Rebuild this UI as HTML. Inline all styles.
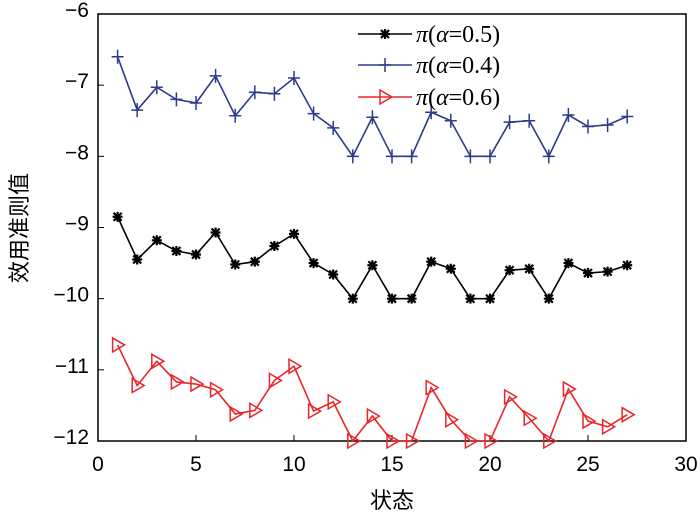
<!DOCTYPE html>
<html><head><meta charset="utf-8"><style>
body{margin:0;background:#fff}
svg{display:block;font-family:"Liberation Sans","Noto Sans CJK SC",sans-serif}
</style></head><body>
<svg id="chart" width="700" height="513"></svg>
<script>
const xTicks=[0,5,10,15,20,25,30];
const yTicks=[-6,-7,-8,-9,-10,-11,-12];
const states=[1,2,3,4,5,6,7,8,9,10,11,12,13,14,15,16,17,18,19,20,21,22,23,24,25,26,27];
const seriesA05=[-8.85,-9.45,-9.18,-9.33,-9.38,-9.07,-9.52,-9.48,-9.26,-9.09,-9.5,-9.66,-10,-9.53,-10,-10,-9.48,-9.58,-10,-10,-9.6,-9.58,-10,-9.5,-9.64,-9.62,-9.53];
const seriesA04=[-6.6,-7.35,-7.03,-7.2,-7.25,-6.87,-7.43,-7.1,-7.12,-6.9,-7.4,-7.6,-8,-7.45,-8,-8,-7.38,-7.5,-8,-8,-7.52,-7.5,-8,-7.42,-7.58,-7.56,-7.44];
const seriesA06=[-10.65,-11.22,-10.88,-11.17,-11.2,-11.28,-11.62,-11.57,-11.15,-10.95,-11.58,-11.45,-12,-11.65,-12,-12,-11.25,-11.7,-12,-12,-11.38,-11.68,-12,-11.27,-11.72,-11.8,-11.63];
const L=98,R=686,T=14,B=441;
const xs=v=>L+(v-0)/30*(R-L);
const ys=v=>T+(-6-v)/6*(B-T);
const svg=document.getElementById('chart');
const NS='http://www.w3.org/2000/svg';
function mk(tag,attrs,parent){const e=document.createElementNS(NS,tag);for(const k in attrs)e.setAttribute(k,attrs[k]);(parent||svg).appendChild(e);return e;}
const frame=mk('rect',{x:L,y:T,width:R-L,height:B-T,fill:'none',stroke:'#000','stroke-width':1.5});


xTicks.forEach(t=>{
  const x=xs(t);
  const tk=mk('line',{x1:x,x2:x,y1:B,y2:B-6,stroke:'#000'});
  
  
  const tx=mk('text',{x:x,y:B+30,'font-size':21,'text-anchor':'middle'});
  tx.textContent=t;
  
  
});
yTicks.forEach(t=>{
  const y=ys(t);
  const tk=mk('line',{x1:L,x2:L+6,y1:y,y2:y,stroke:'#000'});
  
  
  const tx=mk('text',{x:L-9,y:y+3,'font-size':21,'text-anchor':'end'});
  tx.textContent='\u2212'+Math.abs(t);
  
  
});
const xt=mk('text',{x:392,y:508,'font-size':22,'text-anchor':'middle'});
xt.textContent='状态';


const yt=mk('text',{x:0,y:0,'font-size':22,'text-anchor':'middle',transform:'translate(27,228) rotate(-90)'});
yt.textContent='效用准则值';


function marker(type,x,y,color,g){
  if(type==='star'){
    const p=mk('path',{d:`M${x-5} ${y}H${x+5}M${x} ${y-5}V${y+5}M${x-4} ${y-4}L${x+4} ${y+4}M${x-4} ${y+4}L${x+4} ${y-4}`,stroke:color,'stroke-width':2.2},g);
    
  }else if(type==='plus'){
    const p=mk('path',{d:`M${x-6} ${y}H${x+6}M${x} ${y-7}V${y+7}`,stroke:color,'stroke-width':1.5},g);
    
  }else{
    const p=mk('path',{d:`M${x-5} ${y-7}L${x+7} ${y}L${x-5} ${y+7}Z`,stroke:color,fill:'none','stroke-width':1.5},g);
    
  }
}
function series(vals,color,type,name){
  const g=mk('g',{});
  
  
  const pl=mk('polyline',{points:vals.map((v,i)=>xs(states[i])+','+ys(v)).join(' '),fill:'none',stroke:color,'stroke-width':1.6},g);
  
  
  vals.forEach((v,i)=>marker(type,xs(states[i]),ys(v),color,g));
}
series(seriesA04,'#2e3a8c','plus','series-alpha-0-4');
series(seriesA05,'#000','star','series-alpha-0-5');
series(seriesA06,'#e8262a','tri','series-alpha-0-6');
const leg=[['π(α=0.5)','#000','star',34],['π(α=0.4)','#2e3a8c','plus',65],['π(α=0.6)','#e8262a','tri',97]];
leg.forEach(([lbl,c,t,y])=>{
  const g=mk('g',{});
  
  
  mk('line',{x1:358,x2:412,y1:y,y2:y,stroke:c,'stroke-width':1.5},g);
  marker(t,385,y,c,g);
  const tx=mk('text',{x:416,y:y+8,'font-size':24,'font-family':'Liberation Serif, serif'},g);
  tx.innerHTML='<tspan font-style="italic">π</tspan>(<tspan font-style="italic">α</tspan>=0.'+lbl.slice(-2,-1)+')';
});
</script>
</body></html>
